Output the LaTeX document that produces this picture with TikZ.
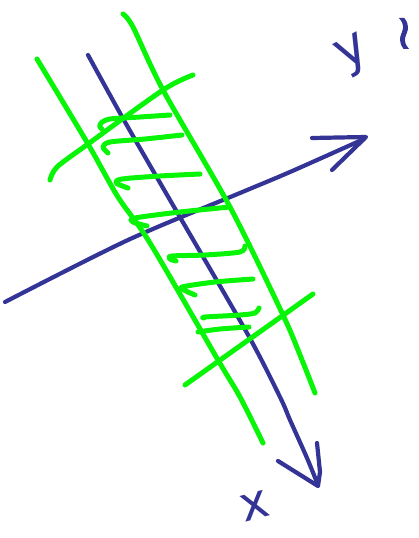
\documentclass[tikz,border=0pt]{standalone}
\usepackage{fontspec}
\setmainfont{DejaVu Sans}
\usepackage{graphicx}
\definecolor{penblue}{RGB}{52,52,150}
\definecolor{pengreen}{RGB}{8,245,8}
\begin{document}
\begin{tikzpicture}[x=1pt,y=-1pt,
  bluestroke/.style={draw=penblue,line width=4.2pt,line cap=round,line join=round},
  greenstroke/.style={draw=pengreen,line width=5pt,line cap=round,line join=round},
  labeltext/.style={text=penblue,inner sep=0pt}]
\useasboundingbox (0,0) rectangle (418,538);
% blue axes
\draw[bluestroke] plot[smooth,tension=0.5] coordinates {(88,55) (125,122) (170,200) (247,333) (280,397) (290,420) (307,458) (318,485)};
\draw[bluestroke] (278,461) -- (318,486) -- (320,472) -- (317,443);
\draw[bluestroke] plot[smooth,tension=0.5] coordinates {(5,302) (128,240) (240,193) (290,172) (364,139)};
\draw[bluestroke] (312,138) -- (366,137) -- (332,170);
% green strip borders
\draw[greenstroke] plot[smooth,tension=0.5] coordinates {(37,59) (88,144) (118,197) (150,243) (218,360) (240,397) (263,443)};
\draw[greenstroke] plot[smooth,tension=0.5] coordinates {(123,14) (133,27) (163,90) (230,207) (283,315) (302,360) (315,393)};
% cross lines
\draw[greenstroke] plot[smooth,tension=0.5] coordinates {(50,180) (57,167) (88,144) (163,90) (193,75)};
\draw[greenstroke] (185,385) -- (313,294);
% hatches
\draw[greenstroke] plot[smooth,tension=0.5] coordinates {(170,115) (140,117) (110,119) (101,123) (100,127) (102,129)};
\draw[greenstroke] plot[smooth,tension=0.5] coordinates {(182,135) (145,139) (110,142) (103,147) (108,153)};
\draw[greenstroke] plot[smooth,tension=0.5] coordinates {(200,174) (160,176) (122,179) (116,183) (128,188)};
\draw[greenstroke] plot[smooth,tension=0.5] coordinates {(230,207) (180,212) (135,218) (133,222) (147,226)};
\draw[greenstroke] plot[smooth,tension=0.5] coordinates {(245,246) (240,252) (205,255) (172,256) (170,259) (176,261)};
\draw[greenstroke] plot[smooth,tension=0.5] coordinates {(253,279) (215,282) (182,287) (186,291) (195,295)};
\draw[greenstroke] plot[smooth,tension=0.5] coordinates {(259,308) (255,313) (240,315) (205,317) (204,318)};
\draw[greenstroke] plot[smooth,tension=0.5] coordinates {(249,327) (220,329) (198,332)};
% labels
\node[labeltext,font=\fontsize{52}{52}\selectfont,rotate=28,text height=0.55em,text depth=0.22em] (ylabel) at (357,62) {y};
\node[labeltext,font=\fontsize{48}{48}\selectfont\addfontfeature{FakeBold=2},text height=0.6em,text depth=0.1em] (tlabel) at (404,46) {\char"2240};
\node[labeltext,font=\fontsize{48}{48}\selectfont,rotate=15,text height=0.55em,text depth=0pt] (xlabel) at (258,516) {x};
\end{tikzpicture}
\end{document}
